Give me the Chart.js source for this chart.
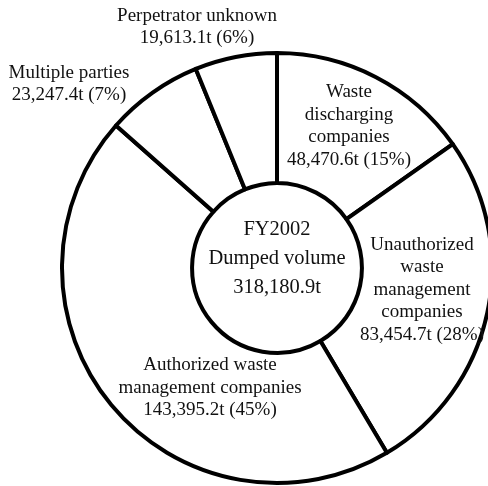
<!DOCTYPE html>
<html>
<head>
<meta charset="utf-8">
<title>FY2002 Dumped volume</title>
<script src="https://cdn.jsdelivr.net/npm/chart.js@4/dist/chart.umd.min.js"></script>
<style>
  html, body { margin: 0; padding: 0; background: #fff; }
  #wrap { width: 488px; height: 486px; position: relative; }
</style>
</head>
<body>
<div id="wrap"><canvas id="dumped"></canvas></div>
<script>
// Dumped volume by responsible party (tonnes), clockwise from 12 o'clock
const categories = [
  ['Waste', 'discharging', 'companies'],
  ['Unauthorized', 'waste', 'management', 'companies'],
  ['Authorized waste', 'management companies'],
  ['Multiple parties'],
  ['Perpetrator unknown']
];
const volumes = [48470.6, 83454.7, 143395.2, 23247.4, 19613.1];
const shares = [15, 28, 45, 7, 6];
const centerTitle = ['FY2002', 'Dumped volume'];
const totalVolume = 318180.9;

// label block centres, offset from the ring centre in px
const labelOffsets = [
  { dx: 72, dy: -142 },
  { dx: 145, dy: 22 },
  { dx: -67, dy: 120 },
  { dx: -208, dy: -184 },
  { dx: -80, dy: -241 }
];

const fmtT = v => v.toLocaleString('en-US', { minimumFractionDigits: 1, maximumFractionDigits: 1 }) + 't';

const ringLabels = {
  id: 'ringLabels',
  afterDatasetsDraw(chart) {
    const ctx = chart.ctx;
    const arcs = chart.getDatasetMeta(0).data;
    const cx = arcs[0].x;
    const cy = arcs[0].y;
    ctx.save();
    ctx.fillStyle = '#111';
    ctx.textAlign = 'center';
    ctx.textBaseline = 'middle';

    // slice labels
    ctx.font = '19px "Liberation Serif", "Times New Roman", serif';
    const lh = 22.5;
    categories.forEach((lines, i) => {
      const all = lines.concat([fmtT(volumes[i]) + ' (' + shares[i] + '%)']);
      const x = cx + labelOffsets[i].dx;
      const y0 = cy + labelOffsets[i].dy - (all.length - 1) * lh / 2;
      all.forEach((t, k) => ctx.fillText(t, x, y0 + k * lh));
    });

    // centre hole
    ctx.font = '20.5px "Liberation Serif", "Times New Roman", serif';
    const clh = 29;
    const mid = centerTitle.concat([fmtT(totalVolume)]);
    const my0 = cy - 9 - (mid.length - 1) * clh / 2;
    mid.forEach((t, k) => ctx.fillText(t, cx, my0 + k * clh));
    ctx.restore();
  }
};

new Chart(document.getElementById('dumped'), {
  type: 'doughnut',
  data: {
    labels: categories.map(l => l.join(' ')),
    datasets: [{
      data: volumes,
      backgroundColor: '#ffffff',
      borderColor: '#000000',
      borderWidth: 4,
      borderJoinStyle: 'round',
      clip: false
    }]
  },
  options: {
    responsive: true,
    maintainAspectRatio: false,
    animation: false,
    radius: 215,
    cutout: '39.5%',
    rotation: 0,
    layout: { padding: { left: 66, top: 50, right: 0, bottom: 0 } },
    plugins: {
      legend: { display: false },
      tooltip: { enabled: false }
    }
  },
  plugins: [ringLabels]
});
</script>
</body>
</html>
